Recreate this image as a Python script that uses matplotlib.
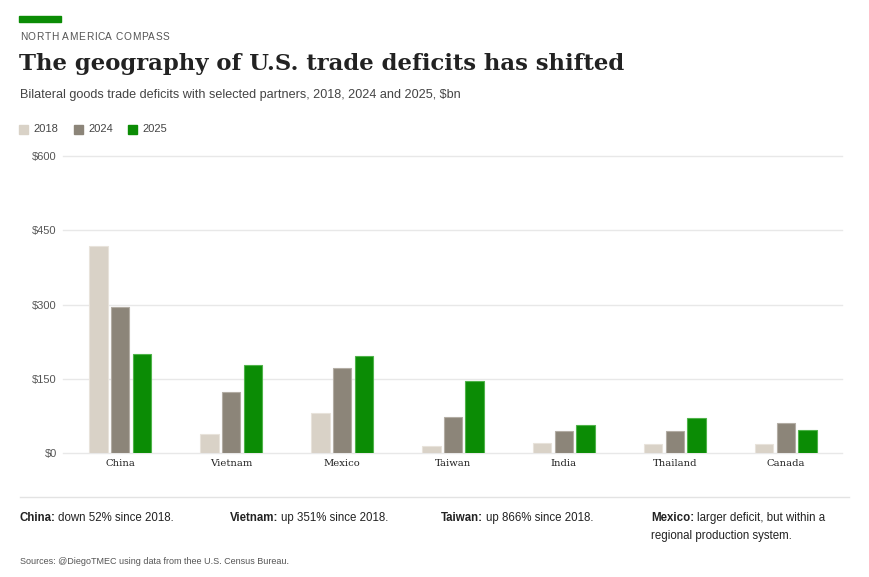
import numpy as np
import matplotlib
matplotlib.use("Agg")
import matplotlib.pyplot as plt
from matplotlib.patches import Rectangle

## data ($bn)
partners = ["China", "Vietnam", "Mexico", "Taiwan", "India", "Thailand", "Canada"]
years = ["2018", "2024", "2025"]
deficit_2018 = [419, 39, 80, 14, 20, 18, 18]
deficit_2024 = [295, 123, 171, 73, 45, 45, 61]
deficit_2025 = [201, 178, 196, 146, 57, 71, 46]
yticks = [0, 150, 300, 450, 600]

notes = [
    ("China:", "down 52% since 2018."),
    ("Vietnam:", "up 351% since 2018."),
    ("Taiwan:", "up 866% since 2018."),
    ("Mexico:", "larger deficit, but within a\nregional production system."),
]

colors = ["#d9d2c7", "#8c8579", "#0b8c05"]
edges = ["#e8e3db", "#b3ada4", "#4fb34a"]

W, H = 869, 577


def fx(px):
    return px / W


def fy(py):
    return 1 - py / H


def spaced_text(fig, renderer, x, y, s, track, **kw):
    ## draw text char by char with a bit of extra letter spacing (px)
    cur = x
    for ch in s:
        t = fig.text(fx(cur), fy(y), ch, **kw)
        bb = t.get_window_extent(renderer)
        w = bb.width if ch != " " else kw.get("fontsize", 8) * 100 / 72 * 0.278
        cur += w + track


def main():
    fig = plt.figure(figsize=(W / 100, H / 100), dpi=100)
    fig.patch.set_facecolor("white")
    renderer = fig.canvas.get_renderer()

    ## header
    fig.patches.append(Rectangle((fx(19), fy(21.5)), 42 / W, 5.5 / H,
                                 transform=fig.transFigure, color="#0b8c05"))
    spaced_text(fig, renderer, 20, 37, "NORTH AMERICA COMPASS", 0.55,
                fontsize=7.3, color="#555555", va="center",
                family="Liberation Sans")
    fig.text(fx(19), fy(64), "The geography of U.S. trade deficits has shifted",
             fontsize=16.4, fontweight="bold", color="#222222", va="center",
             family="DejaVu Serif")
    fig.text(fx(20), fy(95),
             "Bilateral goods trade deficits with selected partners, 2018, 2024 and 2025, $bn",
             fontsize=9.1, color="#444444", va="center", family="Liberation Sans")

    ## legend
    lx = [19, 74, 128]
    for i, yr in enumerate(years):
        fig.patches.append(Rectangle((fx(lx[i]), fy(134)), 8.5 / W, 9 / H,
                                     transform=fig.transFigure, color=colors[i]))
        fig.text(fx(lx[i] + 14), fy(129.5), yr, fontsize=8, color="#444444",
                 va="center", family="Liberation Sans")

    ## chart
    ax = fig.add_axes([fx(63), fy(453), (842 - 63) / W, (453 - 156) / H])
    x = np.arange(len(partners))
    step = 0.195
    width = 0.165
    for i, vals in enumerate([deficit_2018, deficit_2024, deficit_2025]):
        ax.bar(x + (i - 1) * step, vals, width, color=colors[i],
               edgecolor=edges[i], linewidth=0.8, zorder=3)

    ax.set_xlim(-0.514, 6.505)
    ax.set_ylim(0, 600)
    ax.set_yticks(yticks)
    ax.set_yticklabels(["$" + str(v) for v in yticks], family="Liberation Sans",
                       fontsize=8, color="#555555")
    ax.set_xticks(x)
    ax.set_xticklabels(partners, family="DejaVu Serif", fontsize=7.2, color="#222222")
    ax.tick_params(axis="both", length=0)
    ax.tick_params(axis="y", pad=4.5)
    ax.tick_params(axis="x", pad=4)
    ax.yaxis.grid(True, color="#e8e8e8", linewidth=1, zorder=0)
    for s in ax.spines.values():
        s.set_visible(False)
    for line in ax.get_ygridlines():
        line.set_clip_on(False)

    ## notes under the chart
    fig.add_artist(plt.Line2D([fx(20), fx(849)], [fy(497), fy(497)],
                              transform=fig.transFigure, color="#e3e3e3", lw=1))
    nx = [20, 230, 441, 651]
    for i, (head, body) in enumerate(notes):
        t = fig.text(fx(nx[i]), fy(518), head, fontsize=8.3, fontweight="bold",
                     color="#222222", va="center", family="Liberation Sans")
        bb = t.get_window_extent(renderer)
        lines = body.split("\n")
        fig.text(bb.x1 / W + 2.5 / W, fy(518), lines[0], fontsize=8.3,
                 color="#222222", va="center", family="Liberation Sans")
        for k, ln in enumerate(lines[1:]):
            fig.text(fx(nx[i]), fy(518 + 18 * (k + 1)), ln, fontsize=8.3,
                     color="#222222", va="center", family="Liberation Sans")

    fig.text(fx(20), fy(562), "Sources: @DiegoTMEC using data from thee U.S. Census Bureau.",
             fontsize=6.5, color="#555555", va="center", family="Liberation Sans")

    fig.savefig("out.png", dpi=100, facecolor="white")


if __name__ == "__main__":
    main()
